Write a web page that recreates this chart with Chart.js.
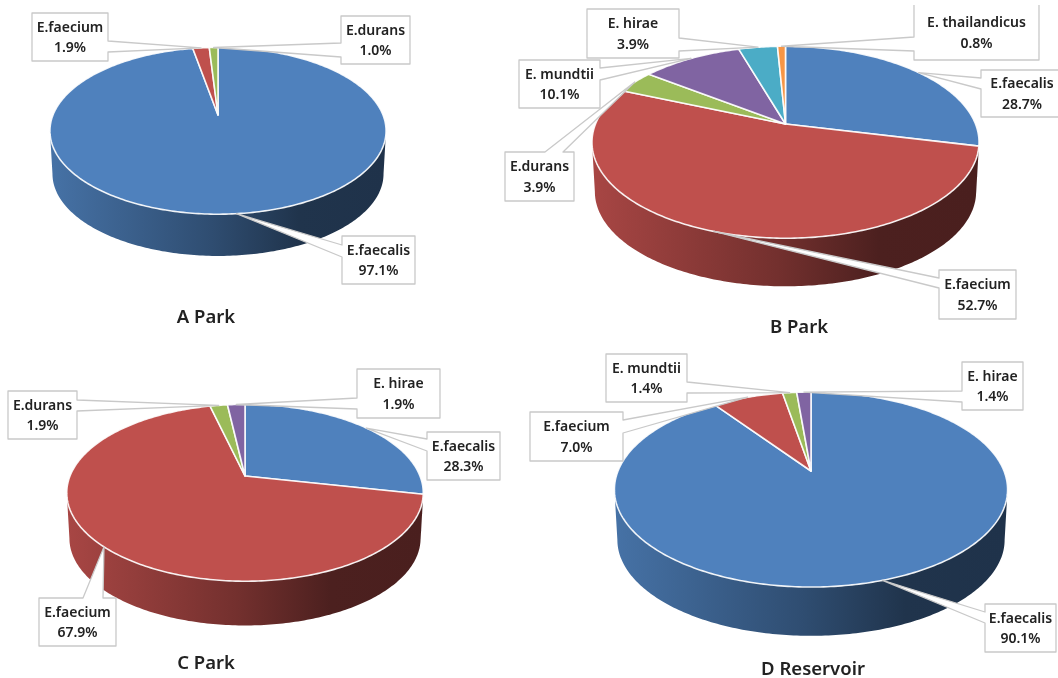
<!DOCTYPE html>
<html>
<head>
<meta charset="utf-8">
<title>Enterococcus species by site</title>
<script src="https://cdn.jsdelivr.net/npm/chart.js@4/dist/chart.umd.min.js"></script>
<style>
  html, body { margin: 0; padding: 0; background: #fff; }
  #page { position: relative; width: 1058px; height: 678px; overflow: hidden; }
  canvas { position: absolute; }
</style>
</head>
<body>
<div id="page">
  <canvas id="parkA" width="503" height="346" style="left:0;top:0"></canvas>
  <canvas id="parkB" width="555" height="346" style="left:503px;top:0"></canvas>
  <canvas id="parkC" width="503" height="332" style="left:0;top:346px"></canvas>
  <canvas id="reservoirD" width="555" height="332" style="left:503px;top:346px"></canvas>
</div>
<script>
// Species and percentages per site
const parkASpecies = ['E.faecalis', 'E.faecium', 'E.durans'];
const parkAValues = [97.1, 1.9, 1.0];

const parkBSpecies = ['E.faecalis', 'E.faecium', 'E.durans', 'E. mundtii', 'E. hirae', 'E. thailandicus'];
const parkBValues = [28.7, 52.7, 3.9, 10.1, 3.9, 0.8];

const parkCSpecies = ['E.faecalis', 'E.faecium', 'E.durans', 'E. hirae'];
const parkCValues = [28.3, 67.9, 1.9, 1.9];

const reservoirSpecies = ['E.faecalis', 'E.faecium', 'E. mundtii', 'E. hirae'];
const reservoirValues = [90.1, 7.0, 1.4, 1.4];

const sliceColors = ['#4f81bd', '#bf504d', '#9bbb59', '#8064a2', '#4bacc6', '#f79646'];

// Tilt of the fake 3D view, shared by all four pies
const PERSPECTIVE = 0.19;
const SQUASH = 0.487;
const DEPTH = 0.262;
const FRONT_START = Math.asin(PERSPECTIVE);

const LABEL_FONT = '600 14px "Noto Sans", sans-serif';
const TITLE_FONT = '600 18.5px "Noto Sans", sans-serif';
const INK = '#222';
const CALLOUT_LINE = '#c9c9c9';

function shade(hex, f) {
  const n = parseInt(hex.slice(1), 16);
  const c = [n >> 16, (n >> 8) & 255, n & 255].map(v => Math.round(v * f));
  return `rgb(${c[0]},${c[1]},${c[2]})`;
}

// Map an arc angle onto the tilted disc
function project(arc, angle, drop, scale) {
  const u = Math.cos(angle);
  const v = Math.sin(angle);
  const w = 1 - PERSPECTIVE * v;
  const r = arc.outerRadius * (scale || 1);
  return {
    x: arc.x + r * u / w,
    y: arc.y + r * SQUASH * v / w + (drop || 0)
  };
}

function rimPoints(arc, from, to, drop, scale) {
  const steps = Math.max(2, Math.ceil(Math.abs(to - from) / 0.015));
  const pts = [];
  for (let i = 0; i <= steps; i++) {
    pts.push(project(arc, from + (to - from) * i / steps, drop, scale));
  }
  return pts;
}

function tracePoints(ctx, pts) {
  pts.forEach(p => ctx.lineTo(p.x, p.y));
}

function drawSide(ctx, arc, color) {
  const from = Math.max(arc.startAngle, FRONT_START);
  const to = Math.min(arc.endAngle, Math.PI - FRONT_START);
  if (to <= from) return;

  const halfWidth = arc.outerRadius / Math.sqrt(1 - PERSPECTIVE * PERSPECTIVE);
  const grad = ctx.createLinearGradient(arc.x - halfWidth, 0, arc.x + halfWidth, 0);
  grad.addColorStop(0, shade(color, 0.88));
  grad.addColorStop(0.48, shade(color, 0.6));
  grad.addColorStop(0.74, shade(color, 0.4));
  grad.addColorStop(1, shade(color, 0.39));

  const drop = arc.outerRadius * DEPTH;
  ctx.beginPath();
  tracePoints(ctx, rimPoints(arc, from, to));
  tracePoints(ctx, rimPoints(arc, to, from, drop, 0.985));
  ctx.closePath();
  ctx.fillStyle = grad;
  ctx.fill();
}

function drawTop(ctx, arc, color) {
  ctx.beginPath();
  ctx.moveTo(arc.x, arc.y);
  tracePoints(ctx, rimPoints(arc, arc.startAngle, arc.endAngle));
  ctx.closePath();
  ctx.fillStyle = color;
  ctx.fill();
  ctx.strokeStyle = 'rgba(255,255,255,0.9)';
  ctx.lineWidth = 1.6;
  ctx.lineJoin = 'round';
  ctx.stroke();
}

// White label box whose outline runs out to a point on the rim
function drawCallout(ctx, box, tip) {
  const { x0, y0, x1, y1, side, a, b } = box;
  const pts = [{ x: x0, y: y0 }];
  if (side === 'top') pts.push({ x: a, y: y0 }, tip, { x: b, y: y0 });
  pts.push({ x: x1, y: y0 });
  if (side === 'right') pts.push({ x: x1, y: a }, tip, { x: x1, y: b });
  pts.push({ x: x1, y: y1 }, { x: x0, y: y1 });
  if (side === 'left') pts.push({ x: x0, y: b }, tip, { x: x0, y: a });

  ctx.beginPath();
  tracePoints(ctx, pts);
  ctx.closePath();
  ctx.fillStyle = '#fff';
  ctx.fill();
  ctx.strokeStyle = CALLOUT_LINE;
  ctx.lineWidth = 1.3;
  ctx.lineJoin = 'round';
  ctx.stroke();

  // this box has no visible top edge
  if (box.openTop) ctx.clearRect(x0 - 2, y0 - 2, x1 - x0 + 4, box.openTop - y0 + 2);
}

const tiltedPie = {
  id: 'tiltedPie',
  // The flat arcs are replaced with the tilted version of the same angles
  beforeDatasetDraw(chart) {
    const ctx = chart.ctx;
    const arcs = chart.getDatasetMeta(0).data;
    ctx.save();
    arcs.forEach((arc, i) => drawSide(ctx, arc, sliceColors[i]));
    arcs.forEach((arc, i) => drawTop(ctx, arc, sliceColors[i]));
    ctx.restore();
    return false;
  },
  afterDraw(chart, args, opts) {
    const ctx = chart.ctx;
    const arcs = chart.getDatasetMeta(0).data;
    const values = chart.data.datasets[0].data;
    ctx.save();
    ctx.textAlign = 'center';
    ctx.textBaseline = 'middle';

    opts.boxes.forEach((box, i) => {
      const mid = (arcs[i].startAngle + arcs[i].endAngle) / 2;
      drawCallout(ctx, box, project(arcs[i], mid));
      const tx = (box.x0 + box.x1) / 2;
      const ty = box.textY !== undefined ? box.textY : (box.y0 + box.y1) / 2;
      ctx.font = LABEL_FONT;
      ctx.fillStyle = INK;
      ctx.fillText(chart.data.labels[i], tx, ty - 9);
      ctx.fillText(values[i].toFixed(1) + '%', tx, ty + 11.5);
    });

    ctx.font = TITLE_FONT;
    ctx.fillStyle = INK;
    ctx.fillText(opts.title, opts.titleX, opts.titleY);
    ctx.restore();
  }
};

function makePie(id, labels, values, radius, cx, cy, title, titleX, titleY, boxes) {
  const canvas = document.getElementById(id);
  const w = canvas.width;
  const h = canvas.height;
  new Chart(canvas, {
    type: 'pie',
    data: {
      labels: labels,
      datasets: [{
        data: values,
        backgroundColor: sliceColors.slice(0, values.length),
        borderWidth: 0,
        radius: radius
      }]
    },
    options: {
      responsive: false,
      animation: false,
      events: [],
      // padding moves the library's pie centre to cx, cy
      layout: {
        padding: {
          left: Math.max(0, 2 * cx - w),
          right: Math.max(0, w - 2 * cx),
          top: Math.max(0, 2 * cy - h),
          bottom: Math.max(0, h - 2 * cy)
        }
      },
      plugins: {
        legend: { display: false },
        tooltip: { enabled: false },
        tiltedPie: { title, titleX, titleY, boxes }
      }
    },
    plugins: [tiltedPie]
  });
}

makePie('parkA', parkASpecies, parkAValues, 165, 218, 115, 'A Park', 206, 318, [
  { x0: 342, y0: 236, x1: 415, y1: 284, side: 'left', a: 245, b: 257 },
  { x0: 32, y0: 13, x1: 108, y1: 61, side: 'right', a: 41, b: 52 },
  { x0: 341, y0: 16, x1: 410, y1: 64, side: 'left', a: 43, b: 57 }
]);

makePie('parkB', parkBSpecies, parkBValues, 190, 282.5, 124, 'B Park', 296, 328, [
  { x0: 478, y0: 70, x1: 560, y1: 117, side: 'left', a: 78, b: 89 },
  { x0: 436, y0: 270, x1: 513, y1: 319, side: 'left', a: 278, b: 288 },
  { x0: 2, y0: 152, x1: 71, y1: 201, side: 'top', a: 42, b: 60 },
  { x0: 16, y0: 60, x1: 97, y1: 108, side: 'right', a: 68, b: 80 },
  { x0: 84, y0: 9, x1: 176, y1: 58, side: 'right', a: 38, b: 51 },
  { x0: 411, y0: 0, x1: 536, y1: 60, side: 'left', a: 37, b: 51, textY: 32.5, openTop: 5 }
]);

makePie('parkC', parkCSpecies, parkCValues, 175, 245, 130, 'C Park', 206, 318, [
  { x0: 427, y0: 86, x1: 500, y1: 134, side: 'left', a: 93, b: 105 },
  { x0: 39, y0: 252, x1: 116, y1: 300, side: 'top', a: 83, b: 103 },
  { x0: 8, y0: 45, x1: 77, y1: 93, side: 'right', a: 54, b: 65 },
  { x0: 357, y0: 23, x1: 440, y1: 72, side: 'left', a: 52, b: 63 }
]);

makePie('reservoirD', reservoirSpecies, reservoirValues, 193, 308, 125, 'D Reservoir', 310, 324, [
  { x0: 482, y0: 258, x1: 553, y1: 306, side: 'left', a: 266, b: 277 },
  { x0: 27, y0: 66, x1: 120, y1: 115, side: 'right', a: 74, b: 87 },
  { x0: 103, y0: 8, x1: 184, y1: 56, side: 'right', a: 36, b: 47 },
  { x0: 459, y0: 16, x1: 520, y1: 64, side: 'left', a: 45, b: 56 }
]);
</script>
</body>
</html>
